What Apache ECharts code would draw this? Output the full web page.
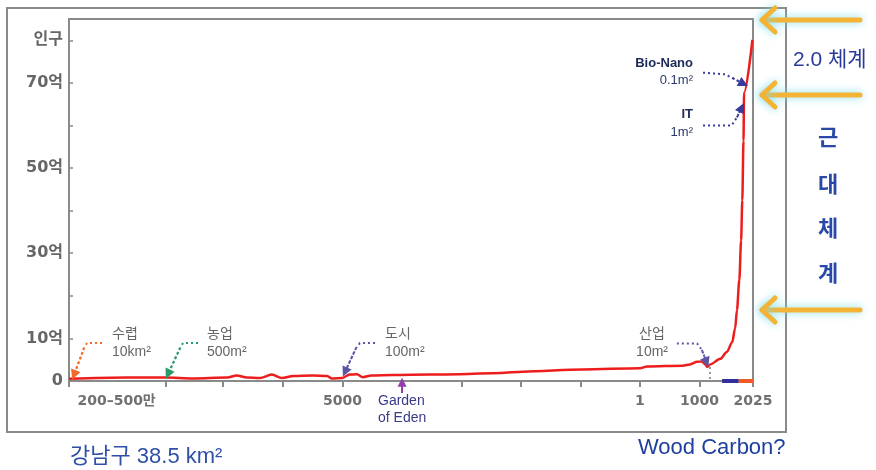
<!DOCTYPE html>
<html>
<head>
<meta charset="utf-8">
<script src="https://cdn.jsdelivr.net/npm/echarts@6/dist/echarts.min.js"></script>
<style>
html, body { margin: 0; padding: 0; background: #fff; }
#main { width: 876px; height: 470px; }
</style>
</head>
<body>
<div id="main"></div>
<script>
// 가로축: 눈금 한 칸 = 1 (비선형 시간축), 세로축: 억 명
var popX = [0, 0.98, 1.63, 2.08, 2.66, 2.82, 2.99, 3.21, 3.41, 3.58, 3.77, 4.10, 4.34, 4.42, 4.59, 4.72, 4.84, 4.94, 5.09, 5.45, 6.07, 6.57, 7.25, 7.63, 8.64, 9.60, 9.72, 10.32, 10.44, 10.56, 10.64, 10.69, 10.73, 10.78, 10.95, 11.06, 11.15, 11.20, 11.23, 11.27, 11.30, 11.32, 11.34, 11.35, 11.49];
var popY = [0.5, 0.8, 0.8, 0.6, 0.8, 1.3, 0.8, 0.7, 1.5, 0.7, 1.2, 1.3, 1.2, 0.6, 0.7, 1.5, 1.6, 0.9, 1.3, 1.4, 1.5, 1.6, 1.9, 2.2, 2.7, 3.0, 3.4, 3.6, 3.9, 4.5, 4.6, 4.0, 3.3, 3.9, 5.2, 6.8, 9.1, 12.4, 16.6, 23.7, 33.0, 42.4, 56.4, 67.7, 80.1];

var xTickPos = [0, 1.63, 2.59, 3.6, 4.6, 5.6, 6.6, 7.6, 8.6, 9.6, 10.6, 11.5];
var xLabelPos = [0.8, 4.6, 9.6, 10.6, 11.5];
var xLabelText = ['200–500만', '5000', '1', '1000', '2025'];
var yLabelVals = [0, 10, 30, 50, 70, 80];
var yLabelText = ['0', '10억', '30억', '50억', '70억', '인구'];

// 시대 구간 (축 위 막대)
var eraStart = [10.98, 11.26];
var eraEnd = [11.26, 11.5];
var eraColor = ['#30309a', '#f05a28'];

var KR = "'Liberation Sans', 'Noto Sans CJK KR', sans-serif";
var AX = "'DejaVu Sans', 'Noto Sans CJK KR', sans-serif";

// 주석 화살표 (점선 경로 + 화살촉)
var notes = [
	{ path: [[0.555, 8.9], [0.303, 8.9], [0.252, 7.7], [0.084, 1.4]], color: '#f26a2a' },
	{ path: [[2.169, 8.9], [1.917, 8.9], [1.866, 7.7], [1.664, 1.6]], color: '#2a9a68' },
	{ path: [[5.145, 8.9], [4.892, 8.9], [4.825, 7.7], [4.640, 2.1]], color: '#5a55a5' },
	{ path: [[10.22, 8.8], [10.56, 8.8], [10.64, 7.3], [10.72, 4.4]], color: '#5a55a5' },
	{ path: [[10.66, 72.4], [11.03, 72.0], [11.16, 71.1], [11.34, 69.8]], color: '#3a3a9a' },
	{ path: [[10.66, 60.0], [11.14, 60.0], [11.23, 61.9], [11.31, 64.2]], color: '#3a3a9a' }
];

var pathData = [];
var headData = [];
for(var i = 0; i < notes.length; i++) {
	var p = notes[i].path;
	pathData.push({ coords: p, lineStyle: { color: notes[i].color } });
	headData.push({ coords: [p[p.length - 2], p[p.length - 1]], lineStyle: { color: notes[i].color } });
}

var eraData = [];
for(var i = 0; i < eraStart.length; i++) {
	eraData.push({ coords: [[eraStart[i], 0], [eraEnd[i], 0]], lineStyle: { color: eraColor[i] } });
}

function bigArrow(y) {
	var glow = { stroke: '#f5b335', lineWidth: 5, shadowBlur: 9, shadowColor: 'rgba(120,220,235,0.95)', lineCap: 'round', lineJoin: 'round', fill: 'none' };
	return [
		{ type: 'line', shape: { x1: 762, y1: y, x2: 860, y2: y }, style: glow },
		{ type: 'polyline', shape: { points: [[775, y - 12], [762, y], [775, y + 12]] }, style: glow }
	];
}

function txt(x, y, s, font, color, align) {
	return {
		type: 'text', x: x, y: y,
		style: { text: s, font: font, fill: color, align: align || 'left', verticalAlign: 'middle' }
	};
}

var graphics = [
	{ type: 'rect', shape: { x: 7, y: 8, width: 779, height: 424 }, style: { fill: 'none', stroke: '#8a8a8a', lineWidth: 2 } },
	txt(112, 334, '수렵', '14px ' + KR, '#666'),
	txt(112, 352, '10km²', '14px ' + KR, '#666'),
	txt(207, 334, '농업', '14px ' + KR, '#666'),
	txt(207, 352, '500m²', '14px ' + KR, '#666'),
	txt(385, 334, '도시', '14px ' + KR, '#666'),
	txt(385, 352, '100m²', '14px ' + KR, '#666'),
	txt(652, 334, '산업', '14px ' + KR, '#666', 'center'),
	txt(668, 352, '10m²', '14px ' + KR, '#666', 'right'),
	txt(378, 401, 'Garden', '14px ' + KR, '#3a3a8a'),
	txt(378, 418, 'of Eden', '14px ' + KR, '#3a3a8a'),
	txt(693, 63, 'Bio-Nano', 'bold 13px ' + KR, '#1e2a5a', 'right'),
	txt(693, 80, '0.1m²', '13px ' + KR, '#2a3a6a', 'right'),
	txt(693, 114, 'IT', 'bold 13px ' + KR, '#1e2a5a', 'right'),
	txt(693, 132, '1m²', '13px ' + KR, '#2a3a6a', 'right'),
	txt(793, 60, '2.0 체계', '21px ' + KR, '#2a3a9a'),
	txt(828, 139, '근', 'bold 22px ' + KR, '#2a48a8', 'center'),
	txt(828, 186, '대', 'bold 22px ' + KR, '#2a48a8', 'center'),
	txt(828, 230, '체', 'bold 22px ' + KR, '#2a48a8', 'center'),
	txt(828, 275, '계', 'bold 22px ' + KR, '#2a48a8', 'center'),
	txt(70, 457, '강남구 38.5 km²', '22px ' + KR, '#3050a8'),
	txt(638, 448, 'Wood Carbon?', '22px ' + KR, '#2040a0')
].concat(bigArrow(20), bigArrow(95), bigArrow(310));

var myChart = echarts.init(document.getElementById('main'));
var option = {
	animation: false,
	backgroundColor: '#fff',
	grid: {
		left: 69,
		right: 123,
		top: 19,
		bottom: 89,
		show: true,
		borderColor: '#8a8a8a',
		borderWidth: 2
	},
	xAxis: {
		type: 'value',
		min: 0,
		max: 11.5,
		splitLine: { show: false },
		axisLine: { lineStyle: { color: '#8a8a8a', width: 2 } },
		axisTick: {
			show: true,
			length: 6,
			customValues: xTickPos,
			lineStyle: { color: '#8a8a8a', width: 2 }
		},
		axisLabel: {
			customValues: xLabelPos,
			margin: 13,
			color: '#707070',
			fontWeight: 'bold',
			fontSize: 14,
			fontFamily: AX,
			formatter: function(v) {
				for(var i = 0; i < xLabelPos.length; i++) {
					if(Math.abs(xLabelPos[i] - v) < 0.001) return xLabelText[i];
				}
				return '';
			}
		}
	},
	yAxis: {
		type: 'value',
		min: 0,
		max: 85,
		interval: 10,
		splitLine: { show: false },
		axisLine: { show: true, lineStyle: { color: '#8a8a8a', width: 2 } },
		axisTick: { show: true, inside: true, length: 4, lineStyle: { color: '#8a8a8a', width: 1.5 } },
		axisLabel: {
			margin: 6,
			color: '#666',
			fontWeight: 'bold',
			fontSize: 16,
			fontFamily: AX,
			formatter: function(v) {
				var idx = yLabelVals.indexOf(v);
				return idx > -1 ? yLabelText[idx] : '';
			}
		}
	},
	series: [{
		name: '인구',
		type: 'line',
		data: popX.map(function(x, i) { return [x, popY[i]]; }),
		showSymbol: false,
		smooth: 0.3,
		smoothMonotone: 'x',
		lineStyle: { color: '#ee1d1d', width: 2.5 },
		z: 3
	}, {
		type: 'lines',
		coordinateSystem: 'cartesian2d',
		polyline: true,
		clip: false,
		silent: true,
		lineStyle: { type: [2, 3], width: 2, opacity: 1 },
		data: pathData,
		z: 4
	}, {
		type: 'lines',
		coordinateSystem: 'cartesian2d',
		clip: false,
		silent: true,
		symbol: ['none', 'triangle'],
		symbolSize: 10,
		lineStyle: { type: [2, 3], width: 2, opacity: 1 },
		data: headData,
		z: 4
	}, {
		type: 'lines',
		coordinateSystem: 'cartesian2d',
		clip: false,
		silent: true,
		symbol: ['none', 'triangle'],
		symbolSize: 9,
		lineStyle: { color: '#9040a8', width: 2, opacity: 1 },
		data: [{ coords: [[5.6, -2.8], [5.6, -0.3]] }],
		z: 4
	}, {
		type: 'lines',
		coordinateSystem: 'cartesian2d',
		clip: false,
		silent: true,
		lineStyle: { color: '#777', type: [2, 3], width: 1.5, opacity: 1 },
		data: [{ coords: [[10.78, 3.3], [10.78, 0]] }],
		z: 2
	}, {
		type: 'lines',
		coordinateSystem: 'cartesian2d',
		clip: false,
		silent: true,
		lineStyle: { width: 4, opacity: 1 },
		data: eraData,
		z: 5
	}],
	graphic: graphics
};
myChart.setOption(option);
</script>
</body>
</html>
